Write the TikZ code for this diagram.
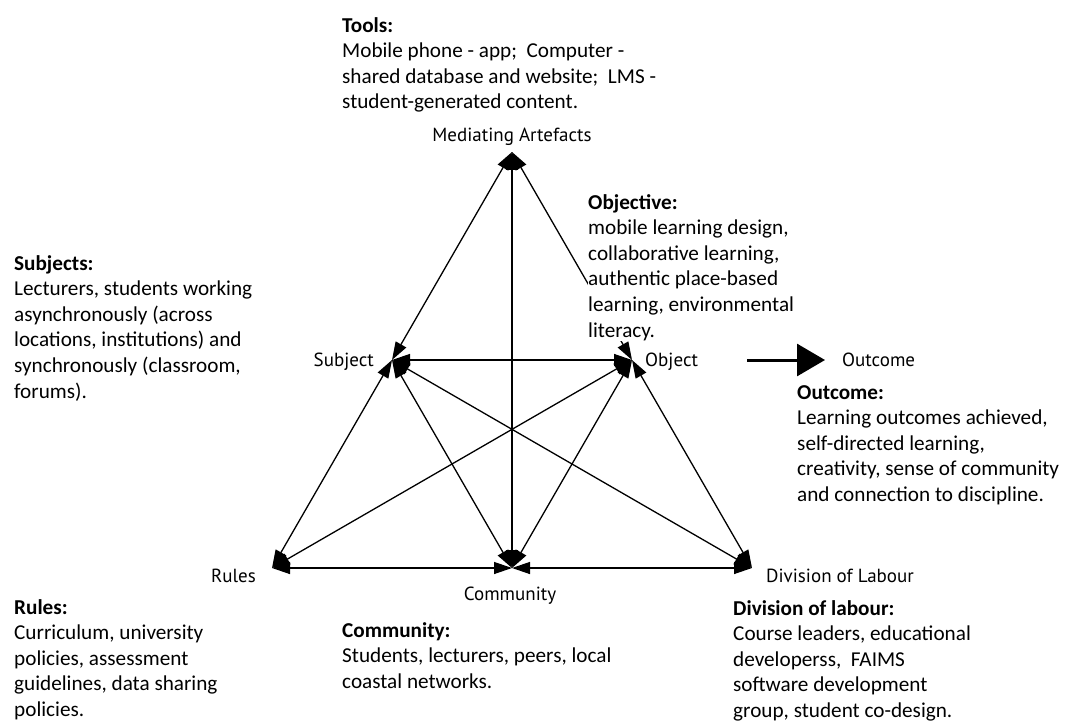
\documentclass[tikz,border=0pt]{standalone}
\usepackage{fontspec}
\setmainfont{Carlito}
\newfontfamily\vlabelfont{PT Sans}
\usetikzlibrary{arrows.meta}

\tikzset{
 txtblock/.style={anchor=north west, align=left, inner sep=0, font=\fontsize{21.2}{25.6}\selectfont},
 vlabel/.style={inner sep=0, font=\vlabelfont\fontsize{19}{22}\selectfont},
 link/.style={line width=1.3pt, {Triangle[length=18pt,width=12pt]}-{Triangle[length=18pt,width=12pt]}},
}

\begin{document}
\begin{tikzpicture}[x=1pt,y=-1pt]
\useasboundingbox (0,0) rectangle (1073,722);
\coordinate (M) at (512,152);
\coordinate (S) at (392,360);
\coordinate (O) at (632,360);
\coordinate (R) at (272,568);
\coordinate (C) at (512,568);
\coordinate (D) at (752,568);
\foreach \a/\b in {M/S, M/O, M/C, S/O, S/R, S/C, S/D, O/R, O/C, O/D, R/C, C/D} {
 \draw[link] (\a) -- (\b);
}
% corner labels
\node[vlabel, anchor=base] (medlbl) at (512,142) {Mediating Artefacts};
\node[vlabel, anchor=base east] (sublbl) at (374,366) {Subject};
\node[vlabel, anchor=base west] (objlbl) at (645,366) {Object};
\node[vlabel, anchor=base east] (rullbl) at (256,582) {Rules};
\node[vlabel, anchor=base] (comlbl) at (510,600) {Community};
\node[vlabel, anchor=base west] (divlbl) at (766,582) {Division\ of Labour};
\node[vlabel, anchor=west] (outlbl) at (842,360) {Outcome};
\coordinate (outstart) at (747,360);
\draw[line width=3pt, -{Triangle[length=28pt,width=32pt]}, shorten >=17pt] (outstart) -- (outlbl);
% descriptions
\node[txtblock] (tools) at (342,17) {\textbf{Tools:}\\Mobile phone - app;\ \ Computer -\\shared database and website;\ \ LMS -\\student-generated content.};
\node[txtblock] (subjects) at (14,255) {\textbf{Subjects:}\\Lecturers, students working\\asynchronously (across\\locations, institutions) and\\synchronously (classroom,\\forums).};
\node[txtblock, fill=white] (objective) at (588,194) {\textbf{Objective:}\\mobile learning design,\\collaborative learning,\\authentic place-based\\learning, environmental\\literacy.};
\node[txtblock] (outcome) at (797,385) {\textbf{Outcome:}\\Learning outcomes achieved,\\self-directed learning,\\creativity, sense of community\\and connection to discipline.};
\node[txtblock] (rules) at (14,599) {\textbf{Rules:}\\Curriculum, university\\policies, assessment\\guidelines, data sharing\\policies.};
\node[txtblock] (community) at (342,622) {\textbf{Community:}\\Students, lecturers, peers, local\\coastal networks.};
\node[txtblock] (division) at (733,600) {\textbf{Division of labour:}\\Course leaders, educational\\developerss,\ \ FAIMS\\software development\\group, student co-design.};
\end{tikzpicture}
\end{document}
